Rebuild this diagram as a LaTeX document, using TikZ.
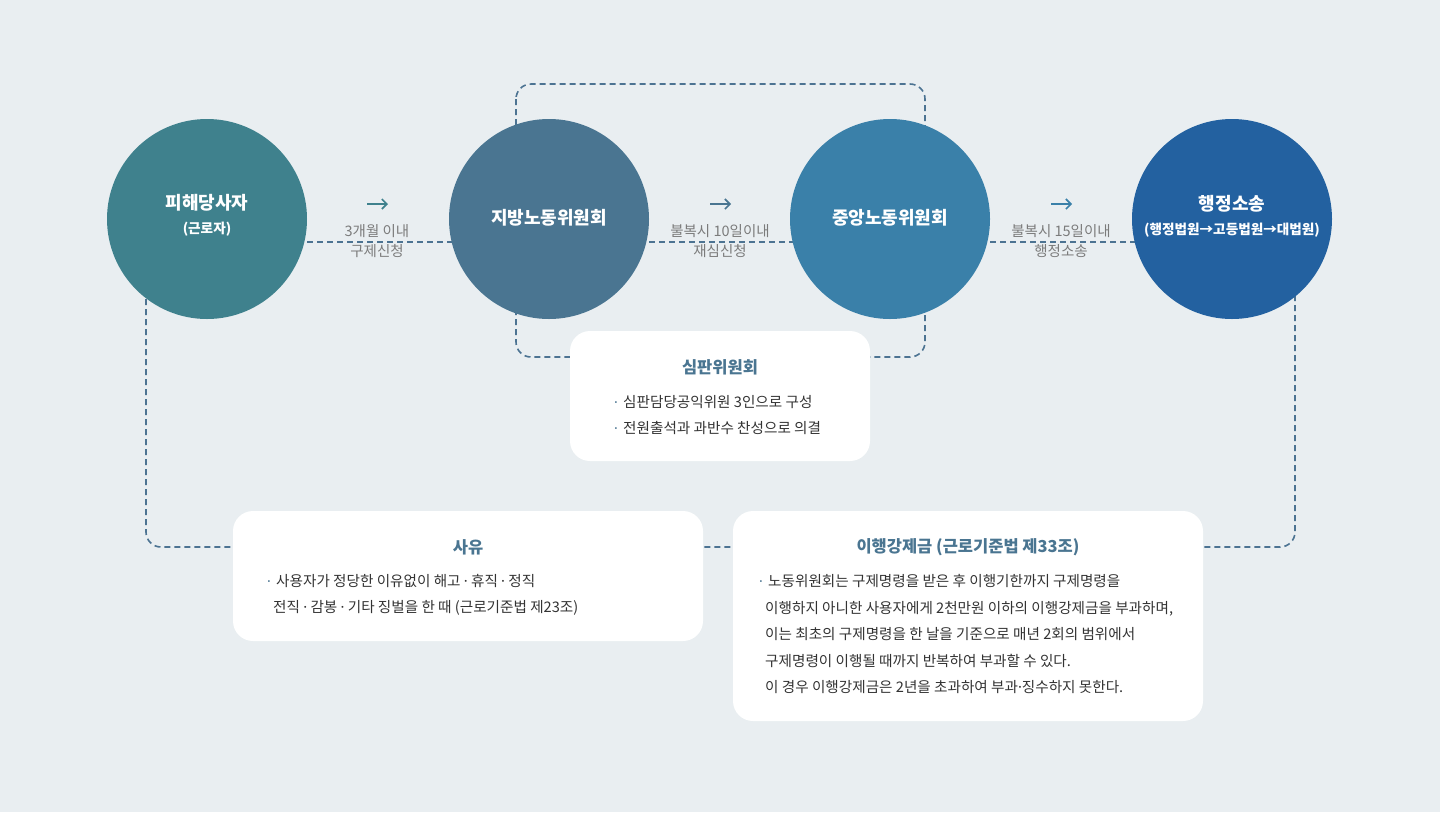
\documentclass[tikz,border=0pt]{standalone}
\usepackage{fontspec}
\setmainfont{Noto Sans CJK KR}
\newfontfamily\latinfont{Noto Sans}
\newcommand{\mdt}{{\latinfont ·}}
\usetikzlibrary{arrows.meta,calc}
\definecolor{bg}{HTML}{E9EEF1}
\definecolor{cone}{HTML}{3F818D}
\definecolor{ctwo}{HTML}{4A7591}
\definecolor{cthree}{HTML}{3A80A9}
\definecolor{cfour}{HTML}{2361A0}
\definecolor{dashc}{HTML}{4C7392}
\definecolor{lblgray}{HTML}{7B7B7B}
\definecolor{ttlblue}{HTML}{4A7591}
\definecolor{bodyc}{HTML}{333333}
\tikzset{
  dashline/.style={draw=dashc, line width=1.6pt, dash pattern=on 6pt off 4pt},
  bigcircle/.style={circle, minimum size=200pt, inner sep=0pt},
  ctitle/.style={text=white, font=\fontsize{18}{20}\selectfont\bfseries, inner sep=0pt},
  csub/.style={text=white, font=\fontsize{13.6}{16}\selectfont\bfseries, inner sep=0pt},
  steplabel/.style={text=lblgray, font=\fontsize{14.5}{20}\selectfont, align=center, inner sep=0pt},
  arrowmark/.style={line width=1.6pt, -{Straight Barb[length=5pt,width=10pt]}},
  infobox/.style={fill=white, rounded corners=20pt, inner sep=0pt},
  boxtitle/.style={text=ttlblue, font=\fontsize{16.5}{20}\selectfont\bfseries, inner sep=0pt},
  bodytext/.style={text=bodyc, font=\fontsize{14.6}{26.5}\selectfont, align=left, inner sep=0pt, anchor=base west},
  bulletmark/.style={text=ttlblue, font=\fontsize{14}{20}\selectfont\latinfont, inner sep=0pt, anchor=base}
}
\begin{document}
\begin{tikzpicture}[x=1pt,y=-1pt]
\fill[bg] (0,0) rectangle (1440,812);
\useasboundingbox (0,0) rectangle (1440,812);

% coordinates for circles
\coordinate (p1) at (207,219);
\coordinate (p2) at (549,219);
\coordinate (p3) at (890,219);
\coordinate (p4) at (1232,219);

% dashed lines (behind)
\draw[dashline, rounded corners=15pt] (516,84) rectangle (925,357);
\draw[dashline, rounded corners=15pt] ($(p1)+(-61,0)$) -- (146,547) -- (1295,547) -- ($(p4)+(63,0)$);
\draw[dashline] ($(p1)+(0,23)$) -- ($(p2)+(0,23)$);
\draw[dashline] ($(p2)+(0,23)$) -- ($(p3)+(0,23)$);
\draw[dashline] ($(p3)+(0,23)$) -- ($(p4)+(0,23)$);

% circles
\node[bigcircle, fill=cone] (c1) at (p1) {};
\node[bigcircle, fill=ctwo] (c2) at (p2) {};
\node[bigcircle, fill=cthree] (c3) at (p3) {};
\node[bigcircle, fill=cfour] (c4) at (p4) {};

\node[ctitle] (t1) at (207,203) {피해당사자};
\node[csub] (s1) at (207,229) {(근로자)};
\node[ctitle] (t2) at (549,218) {지방노동위원회};
\node[ctitle] (t3) at (890,218) {중앙노동위원회};
\node[ctitle] (t4) at (1232,204) {행정소송};
\node[csub] (s4) at (1232,230) {(행정법원→고등법원→대법원)};

% step labels and arrows
\coordinate (a1) at (377,204);
\coordinate (a2) at (720,204);
\coordinate (a3) at (1061,204);
\draw[arrowmark, draw=cone] ($(a1)+(-10,0)$) -- ($(a1)+(11,0)$);
\draw[arrowmark, draw=ctwo] ($(a2)+(-10,0)$) -- ($(a2)+(11,0)$);
\draw[arrowmark, draw=cthree] ($(a3)+(-10,0)$) -- ($(a3)+(11,0)$);
\node[steplabel] (l1) at (377,241) {3개월 이내\\구제신청};
\node[steplabel] (l2) at (720,241) {불복시 10일이내\\재심신청};
\node[steplabel] (l3) at (1061,241) {불복시 15일이내\\행정소송};

% boxes
\node[infobox, minimum width=300pt, minimum height=130pt] (b1) at (720,396) {};
\node[infobox, minimum width=470pt, minimum height=130pt] (b2) at (468,576) {};
\node[infobox, minimum width=470pt, minimum height=210pt] (b3) at (968,616) {};

% box 1
\node[boxtitle] (bt1) at (720,367) {심판위원회};
\node[bulletmark] (bm1) at (616,407) {·};
\node[bulletmark] (bm2) at (616,433) {·};
\node[bodytext] (bx1) at (623,407) {심판담당공익위원 3인으로 구성};
\node[bodytext] (bx2) at (623,433) {전원출석과 과반수 찬성으로 의결};

% box 2
\node[boxtitle] (bt2) at (468,547) {사유};
\node[bulletmark] (bm3) at (269,586) {·};
\node[bodytext] (bx3) at (276,586) {사용자가 정당한 이유없이 해고 \mdt{} 휴직 \mdt{} 정직};
\node[bodytext] (bx4) at (273,612) {전직 \mdt{} 감봉 \mdt{} 기타 징벌을 한 때 (근로기준법 제23조)};

% box 3
\node[boxtitle] (bt3) at (968,547) {이행강제금 (근로기준법 제33조)};
\node[bulletmark] (bm4) at (761,586) {·};
\node[bodytext] (bx5) at (768,586) {노동위원회는 구제명령을 받은 후 이행기한까지 구제명령을};
\node[bodytext] (bx6) at (765,613) {이행하지 아니한 사용자에게 2천만원 이하의 이행강제금을 부과하며,};
\node[bodytext] (bx7) at (765,639) {이는 최초의 구제명령을 한 날을 기준으로 매년 2회의 범위에서};
\node[bodytext] (bx8) at (765,666) {구제명령이 이행될 때까지 반복하여 부과할 수 있다.};
\node[bodytext] (bx9) at (765,692) {이 경우 이행강제금은 2년을 초과하여 부과\mdt{}징수하지 못한다.};
\end{tikzpicture}
\end{document}
